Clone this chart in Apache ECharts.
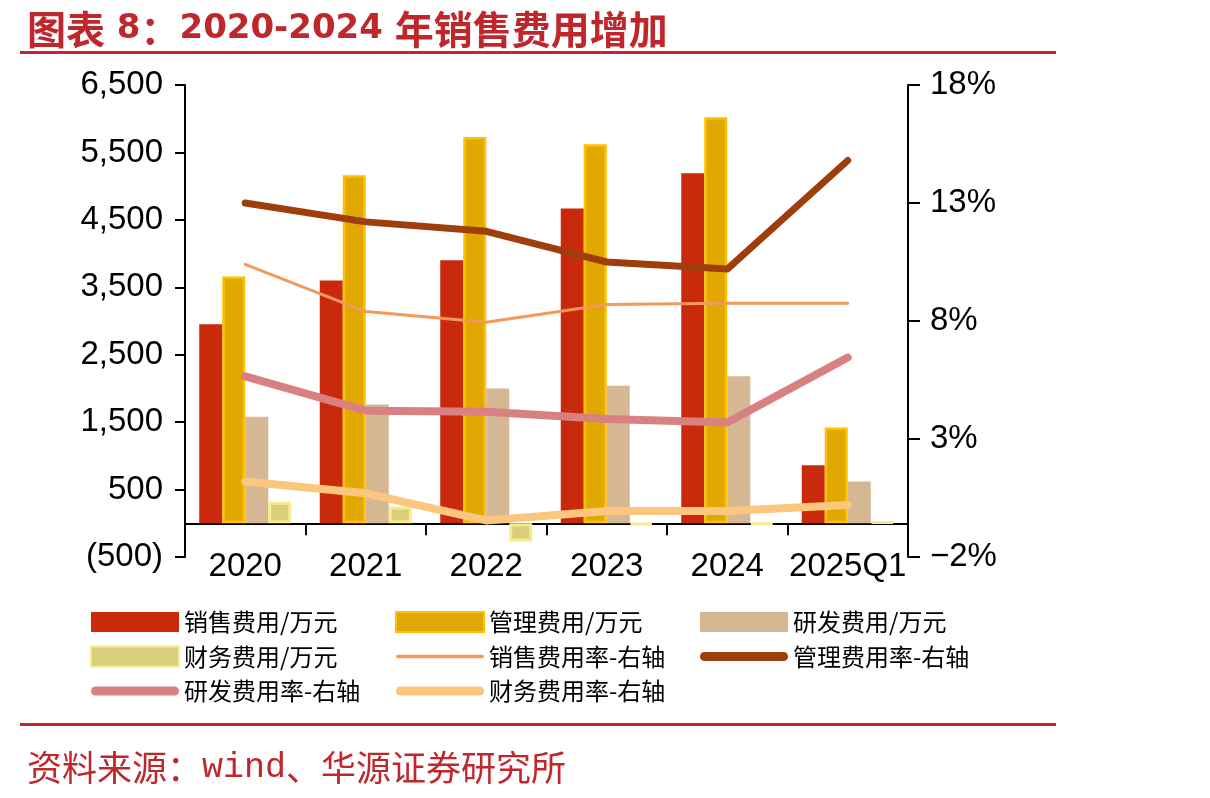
<!DOCTYPE html>
<html>
<head>
<meta charset="utf-8">
<script src="https://cdn.jsdelivr.net/npm/echarts@6/dist/echarts.min.js"></script>
<style>html,body{margin:0;padding:0;background:#fff;}#c{width:1210px;height:798px;}</style>
</head>
<body>
<div id="c"></div>
<script>
const categories = ['2020', '2021', '2022', '2023', '2024', '2025Q1'];
const salesExp = [2950, 3600, 3900, 4670, 5190, 860];
const mgmtExp = [3660, 5160, 5730, 5620, 6020, 1420];
const rdExp = [1580, 1760, 2000, 2040, 2180, 620];
const finExp = [320, 250, -270, -20, -15, 20];
const salesRate = [10.4, 8.4, 7.95, 8.7, 8.75, 8.75];
const mgmtRate = [13.0, 12.2, 11.8, 10.5, 10.2, 14.8];
const rdRate = [5.65, 4.2, 4.15, 3.85, 3.7, 6.45];
const finRate = [1.2, 0.7, -0.45, -0.05, -0.05, 0.2];
const leftTicks = { min: -500, max: 6500, interval: 1000 };
const rightTicks = { min: -2, max: 18, interval: 5 };

const red = '#C0272D';
const axisFont = 'Liberation Sans, Arial, sans-serif';
const cjkFont = 'Noto Sans CJK SC, sans-serif';

const chart = echarts.init(document.getElementById('c'), null, { renderer: 'canvas' });

// legend icons: line icons as rounded bars inside an 88x20 box
const thickIcon = 'path://M0,0M88,20M4.5,5.5h79a4.5,4.5,0,0,1,0,9h-79a4.5,4.5,0,0,1,0,-9z';
const thinIcon = 'path://M0,0M88,20M1.5,8.3h85a1.7,1.7,0,0,1,0,3.4h-85a1.7,1.7,0,0,1,0,-3.4z';

const legendText = { fontSize: 24, color: '#000', fontFamily: cjkFont, lineHeight: 24 };
function mkLegend(left, data) {
  return {
    orient: 'vertical', left: left, top: 610, padding: 0, itemWidth: 88, itemHeight: 20, itemGap: 10.5,
    selectedMode: false, textStyle: legendText, data: data
  };
}

const option = {
  backgroundColor: '#fff',
  animation: false,
  title: [
    { text: '{a|图表}{b| 8}{a|：}{b|2020-2024 }{a|年销售费用增加}', left: 22, top: 5,
      textStyle: { rich: {
        a: { fontSize: 39, fontWeight: 'bold', color: red, fontFamily: cjkFont },
        b: { fontSize: 34, fontWeight: 'bold', color: red, fontFamily: 'DejaVu Sans, sans-serif' }
      } } },
    { text: '{a|资料来源：}{b|wind}{a|、华源证券研究所}', left: 22, top: 745,
      textStyle: { rich: {
        a: { fontSize: 35, fontWeight: 'normal', color: red, fontFamily: cjkFont },
        b: { fontSize: 35, fontWeight: 'normal', color: red, fontFamily: 'Liberation Mono, DejaVu Sans Mono, monospace' }
      } } }
  ],
  graphic: [
    { type: 'rect', shape: { x: 20, y: 51, width: 1036, height: 3 }, style: { fill: red } },
    { type: 'rect', shape: { x: 20, y: 723, width: 1036, height: 3 }, style: { fill: red } }
  ],
  legend: [
    mkLegend(90, [
      { name: '销售费用/万元', icon: 'rect' },
      { name: '财务费用/万元', icon: 'rect' },
      { name: '研发费用率-右轴', icon: thickIcon }
    ]),
    mkLegend(395, [
      { name: '管理费用/万元', icon: 'rect' },
      { name: '销售费用率-右轴', icon: thinIcon },
      { name: '财务费用率-右轴', icon: thickIcon }
    ]),
    mkLegend(700, [
      { name: '研发费用/万元', icon: 'rect' },
      { name: '管理费用率-右轴', icon: thickIcon }
    ])
  ],
  grid: { left: 185, right: 302, top: 85, bottom: 241, containLabel: false },
  xAxis: {
    type: 'category', data: categories, boundaryGap: true,
    axisLine: { onZero: true, lineStyle: { color: '#000', width: 2 } },
    axisTick: { show: true, inside: false, interval: 0, length: 12, lineStyle: { color: '#000', width: 2 } },
    axisLabel: { interval: 0, hideOverlap: false, margin: -7, fontSize: 33, color: '#000', fontFamily: axisFont }
  },
  yAxis: [
    {
      type: 'value', min: leftTicks.min, max: leftTicks.max, interval: leftTicks.interval,
      splitLine: { show: false },
      axisLine: { show: true, onZero: false, lineStyle: { color: '#000', width: 2 } },
      axisTick: { show: true, length: 10, lineStyle: { color: '#000', width: 2 } },
      axisLabel: { margin: 22, fontSize: 33, color: '#000', fontFamily: axisFont,
        formatter: v => v < 0 ? '(' + Math.abs(v).toLocaleString('en-US') + ')' : v.toLocaleString('en-US') }
    },
    {
      type: 'value', min: rightTicks.min, max: rightTicks.max, interval: rightTicks.interval,
      position: 'right',
      splitLine: { show: false },
      axisLine: { show: true, onZero: false, lineStyle: { color: '#000', width: 2 } },
      axisTick: { show: true, length: 12, lineStyle: { color: '#000', width: 2 } },
      axisLabel: { margin: 22, fontSize: 33, color: '#000', fontFamily: axisFont,
        formatter: v => (v < 0 ? '\u2212' + Math.abs(v) : v) + '%' }
    }
  ],
  series: [
    { name: '销售费用/万元', type: 'bar', yAxisIndex: 0, data: salesExp, barWidth: 23, barGap: '0%',
      itemStyle: { color: '#C92A0C' } },
    { name: '管理费用/万元', type: 'bar', yAxisIndex: 0, data: mgmtExp, barWidth: 23, barGap: '0%',
      itemStyle: { color: '#E0A800', borderColor: '#FFC000', borderWidth: 2.5 } },
    { name: '研发费用/万元', type: 'bar', yAxisIndex: 0, data: rdExp, barWidth: 23, barGap: '0%',
      itemStyle: { color: '#D5B893' } },
    { name: '财务费用/万元', type: 'bar', yAxisIndex: 0, data: finExp, barWidth: 23, barGap: '0%',
      itemStyle: { color: '#D8CE7B', borderColor: '#F6EB8F', borderWidth: 3 } },
    { name: '销售费用率-右轴', type: 'line', yAxisIndex: 1, data: salesRate, symbol: 'none', z: 5,
      lineStyle: { color: '#F3995A', width: 3, cap: 'round' }, itemStyle: { color: '#F3995A' } },
    { name: '管理费用率-右轴', type: 'line', yAxisIndex: 1, data: mgmtRate, symbol: 'none', z: 5,
      lineStyle: { color: '#9E3F0B', width: 7, cap: 'round', join: 'round' }, itemStyle: { color: '#9E3F0B' } },
    { name: '研发费用率-右轴', type: 'line', yAxisIndex: 1, data: rdRate, symbol: 'none', z: 5,
      lineStyle: { color: '#D98182', width: 8, cap: 'round', join: 'round' }, itemStyle: { color: '#D98182' } },
    { name: '财务费用率-右轴', type: 'line', yAxisIndex: 1, data: finRate, symbol: 'none', z: 5,
      lineStyle: { color: '#FBC77E', width: 8, cap: 'round', join: 'round' }, itemStyle: { color: '#FBC77E' } }
  ]
};
chart.setOption(option);
</script>
</body>
</html>
